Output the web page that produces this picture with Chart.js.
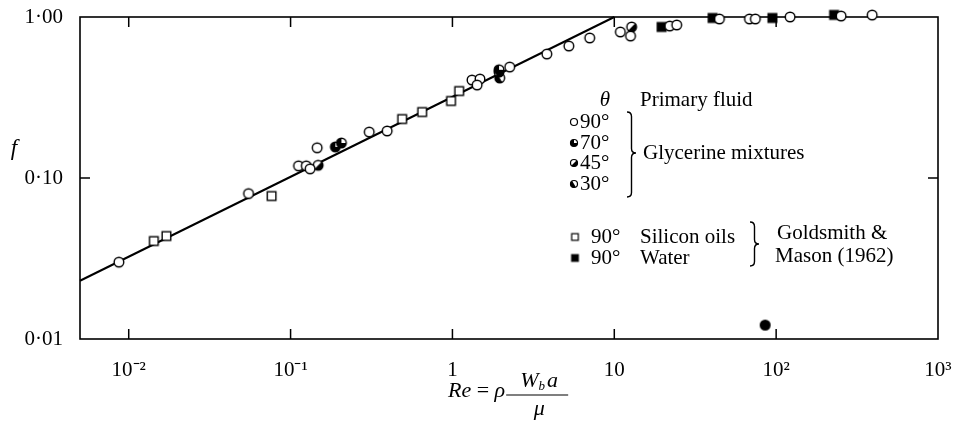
<!DOCTYPE html>
<html><head><meta charset="utf-8">
<script src="https://cdn.jsdelivr.net/npm/chart.js@4.4.1/dist/chart.umd.min.js"></script>
<style>html,body{margin:0;padding:0;background:#fff;}#wrap{width:954px;height:427px;}</style>
</head><body><div id="wrap"><canvas id="c" width="954" height="427" style="width:954px;height:427px"></canvas></div>
<script>
// ---- tick definitions ----
const xTicks = [0.01, 0.1, 1, 10, 100, 1000];
const xTickLabels = ['10⁻²', '10⁻¹', '1', '10', '10²', '10³'];
const yTicks = [0.01, 0.1, 1];
const yTickLabels = ['0·01', '0·10', '1·00'];

// ---- fitted line (end points) ----
const fitRe = [0.005, 10];
const fitF = [0.023, 1.0];

// ---- glycerine mixtures, theta = 90 (open circles) ----
const g90Re = [0.0087, 0.055, 0.112, 0.125, 0.132, 0.146, 0.306, 0.395, 1.32, 1.48, 1.42, 2.26, 3.83, 5.24, 7.05, 10.9, 12.6, 22.0, 24.3, 44.6, 68.4, 74.4, 122, 252, 392];
const g90F  = [0.030, 0.080, 0.119, 0.119, 0.114, 0.154, 0.193, 0.196, 0.406, 0.412, 0.378, 0.489, 0.589, 0.660, 0.741, 0.807, 0.762, 0.879, 0.892, 0.972, 0.972, 0.972, 1.0, 1.014, 1.029];
// ---- theta = 70 ----
const g70Re = [0.189, 0.206, 1.94];
const g70F  = [0.156, 0.165, 0.470];
// ---- theta = 45 ----
const g45Re = [0.148, 1.94, 12.8];
const g45F  = [0.120, 0.455, 0.867];
// ---- theta = 30 ----
const g30Re = [1.96];
const g30F  = [0.418];
// ---- Goldsmith & Mason (1962): silicon oils (open squares) ----
const silRe = [0.0143, 0.0171, 0.0763, 0.489, 0.650, 0.98, 1.10];
const silF  = [0.0406, 0.0436, 0.0773, 0.2325, 0.257, 0.301, 0.347];
// ---- Goldsmith & Mason (1962): water (filled squares) ----
const watRe = [19.6, 40.5, 94.8, 228];
const watF  = [0.867, 0.986, 0.986, 1.03];
// ---- isolated mark ----
const oddRe = [85.5];
const oddF  = [0.0122];

const pts = (xs, ys) => xs.map((x, i) => ({x: x, y: ys[i]}));

// ---- marker images ----
function marker(type, r, lw) {
  const s = Math.ceil(2 * r + lw + 3);
  const c = document.createElement('canvas');
  c.width = s; c.height = s;
  const g = c.getContext('2d');
  const cx = s / 2, cy = s / 2;
  g.lineWidth = lw; g.strokeStyle = '#000';
  if (type === 'sq' || type === 'sqf') {
    g.fillStyle = type === 'sqf' ? '#000' : '#fff';
    g.fillRect(cx - r, cy - r, 2 * r, 2 * r);
    g.strokeRect(cx - r, cy - r, 2 * r, 2 * r);
    return c;
  }
  if (type === 'blob') {
    g.fillStyle = '#000';
    g.beginPath(); g.arc(cx, cy, r, 0, Math.PI * 2); g.fill();
    return c;
  }
  g.fillStyle = '#fff';
  g.beginPath(); g.arc(cx, cy, r, 0, Math.PI * 2); g.fill();
  const D = Math.PI / 180;
  let sec = null;
  if (type === 'c70') sec = [0, 270];
  if (type === 'c45') sec = [-45, 135];
  if (type === 'c30') sec = [60, 240];
  if (sec) {
    g.fillStyle = '#000';
    g.beginPath(); g.moveTo(cx, cy); g.arc(cx, cy, r, sec[0] * D, sec[1] * D); g.closePath(); g.fill();
  }
  g.beginPath(); g.arc(cx, cy, r, 0, Math.PI * 2); g.stroke();
  return c;
}
const M = {
  c90: marker('c90', 4.8, 1.4), c70: marker('c70', 4.8, 1.4), c45: marker('c45', 4.8, 1.4), c30: marker('c30', 4.8, 1.4),
  sq: marker('sq', 4.3, 1.4), sqf: marker('sqf', 4.3, 1.4), blob: marker('blob', 5.5, 1)
};
const L = {
  c90: marker('c90', 3.5, 1.2), c70: marker('c70', 3.5, 1.2), c45: marker('c45', 3.5, 1.2), c30: marker('c30', 3.5, 1.2),
  sq: marker('sq', 3.3, 1.2), sqf: marker('sqf', 3.3, 1.2)
};

const SERIF = "'Liberation Serif', 'Times New Roman', serif";

function brace(g, x, y1, y2, ym, w) {
  const h = w / 2;
  g.beginPath();
  g.moveTo(x, y1);
  g.quadraticCurveTo(x + h, y1, x + h, y1 + h);
  g.lineTo(x + h, ym - h);
  g.quadraticCurveTo(x + h, ym, x + w, ym);
  g.quadraticCurveTo(x + h, ym, x + h, ym + h);
  g.lineTo(x + h, y2 - h);
  g.quadraticCurveTo(x + h, y2, x, y2);
  g.stroke();
}

const framePlugin = {
  id: 'frame',
  beforeDatasetsDraw(chart) {
    const g = chart.ctx, a = chart.chartArea;
    const xs = chart.scales.x, ys = chart.scales.y;
    g.save();
    g.strokeStyle = '#000'; g.lineWidth = 1.6;
    g.strokeRect(a.left, a.top, a.right - a.left, a.bottom - a.top);
    g.lineWidth = 1.5;
    g.beginPath();
    xTicks.forEach(v => {
      const px = xs.getPixelForValue(v);
      if (px > a.left + 2 && px < a.right - 2) {
        g.moveTo(px, a.bottom); g.lineTo(px, a.bottom - 10);
        g.moveTo(px, a.top); g.lineTo(px, a.top + 10);
      }
    });
    yTicks.forEach(v => {
      const py = ys.getPixelForValue(v);
      if (py > a.top + 2 && py < a.bottom - 2) {
        g.moveTo(a.left, py); g.lineTo(a.left + 10, py);
        g.moveTo(a.right, py); g.lineTo(a.right - 10, py);
      }
    });
    g.stroke();
    g.restore();
  },
  afterDraw(chart) {
    const g = chart.ctx;
    g.save();
    g.fillStyle = '#000'; g.strokeStyle = '#000';
    g.textBaseline = 'middle'; g.textAlign = 'left';
    // y title
    g.font = 'italic 23px ' + SERIF;
    g.textAlign = 'center';
    g.fillText('f', 14, 149);
    // legend
    g.font = 'italic 21px ' + SERIF;
    g.fillText('θ', 605, 100);
    g.textAlign = 'left';
    g.font = '21px ' + SERIF;
    g.fillText('Primary fluid', 640, 100);
    const rows = [['c90', '90°', 122], ['c70', '70°', 143], ['c45', '45°', 163], ['c30', '30°', 184]];
    rows.forEach(r => {
      const im = L[r[0]];
      g.drawImage(im, 574 - im.width / 2, r[2] - im.height / 2);
      g.fillText(r[1], 580, r[2]);
    });
    g.lineWidth = 1.4;
    brace(g, 627, 112, 197, 153, 9);
    g.fillText('Glycerine mixtures', 643, 153);
    const rows2 = [['sq', '90°', 'Silicon oils', 237], ['sqf', '90°', 'Water', 258]];
    rows2.forEach(r => {
      const im = L[r[0]];
      g.drawImage(im, 575 - im.width / 2, r[3] - im.height / 2);
      g.fillText(r[1], 591, r[3]);
      g.fillText(r[2], 640, r[3]);
    });
    brace(g, 750, 222, 266, 244, 9);
    g.fillText('Goldsmith &', 777, 233);
    g.fillText('Mason (1962)', 775, 256);
    // x title: Re = rho W_b a / mu
    g.font = 'italic 22px ' + SERIF;
    let x = 448; const yb = 391;
    g.fillText('Re', x, yb); x += g.measureText('Re').width;
    g.font = '22px ' + SERIF;
    g.fillText(' = ', x, yb); x += g.measureText(' = ').width;
    g.font = 'italic 22px ' + SERIF;
    g.fillText('ρ', x, yb); x += g.measureText('ρ').width + 1;
    const barL = x, barR = x + 62;
    g.lineWidth = 1.2;
    g.beginPath(); g.moveTo(barL, 395); g.lineTo(barR, 395); g.stroke();
    // numerator
    let nx = barL + 14;
    g.fillText('W', nx, 381); nx += g.measureText('W').width;
    g.font = 'italic 13px ' + SERIF;
    g.fillText('b', nx, 387); nx += g.measureText('b').width + 2;
    g.font = 'italic 22px ' + SERIF;
    g.fillText('a', nx, 381);
    g.textAlign = 'center';
    g.fillText('μ', (barL + barR) / 2 + 2, 409);
    g.restore();
  }
};

const ds = (data, img) => ({data: data, pointStyle: img, pointRadius: 5, pointHoverRadius: 5, showLine: false, clip: false});

new Chart(document.getElementById('c'), {
  type: 'scatter',
  data: {
    datasets: [
      ds(pts(g90Re, g90F), M.c90),
      ds(pts(g70Re, g70F), M.c70),
      ds(pts(g45Re, g45F), M.c45),
      ds(pts(g30Re, g30F), M.c30),
      ds(pts(silRe, silF), M.sq),
      ds(pts(watRe, watF), M.sqf),
      ds(pts(oddRe, oddF), M.blob),
      {data: pts(fitRe, fitF), showLine: true, pointRadius: 0, borderColor: '#000', borderWidth: 2, fill: false, clip: false}
    ]
  },
  options: {
    responsive: false, animation: false, devicePixelRatio: 1,
    layout: {padding: {left: 0, right: 16, top: 17, bottom: 0}},
    plugins: {legend: {display: false}, tooltip: {enabled: false}},
    scales: {
      x: {
        type: 'logarithmic', min: 0.005, max: 1000,
        grid: {display: false}, border: {display: false},
        afterBuildTicks: s => { s.ticks = xTicks.map(v => ({value: v})); },
        afterFit: s => { s.height = 88; s.paddingLeft = 0; s.paddingRight = 0; },
        ticks: {
          color: '#000', font: {family: SERIF, size: 21}, padding: 11, maxRotation: 0, autoSkip: false,
          callback: (v) => { const i = xTicks.findIndex(t => Math.abs(Math.log10(t) - Math.log10(v)) < 1e-6); return i >= 0 ? xTickLabels[i] : ''; }
        }
      },
      y: {
        type: 'logarithmic', min: 0.01, max: 1,
        grid: {display: false}, border: {display: false},
        afterBuildTicks: s => { s.ticks = yTicks.map(v => ({value: v})); },
        afterFit: s => { s.width = 80; s.paddingTop = 0; s.paddingBottom = 0; },
        ticks: {
          color: '#000', font: {family: SERIF, size: 21}, padding: 9, autoSkip: false,
          callback: (v) => { const i = yTicks.findIndex(t => Math.abs(Math.log10(t) - Math.log10(v)) < 1e-6); return i >= 0 ? yTickLabels[i] : ''; }
        }
      }
    }
  },
  plugins: [framePlugin]
});
</script></body></html>
